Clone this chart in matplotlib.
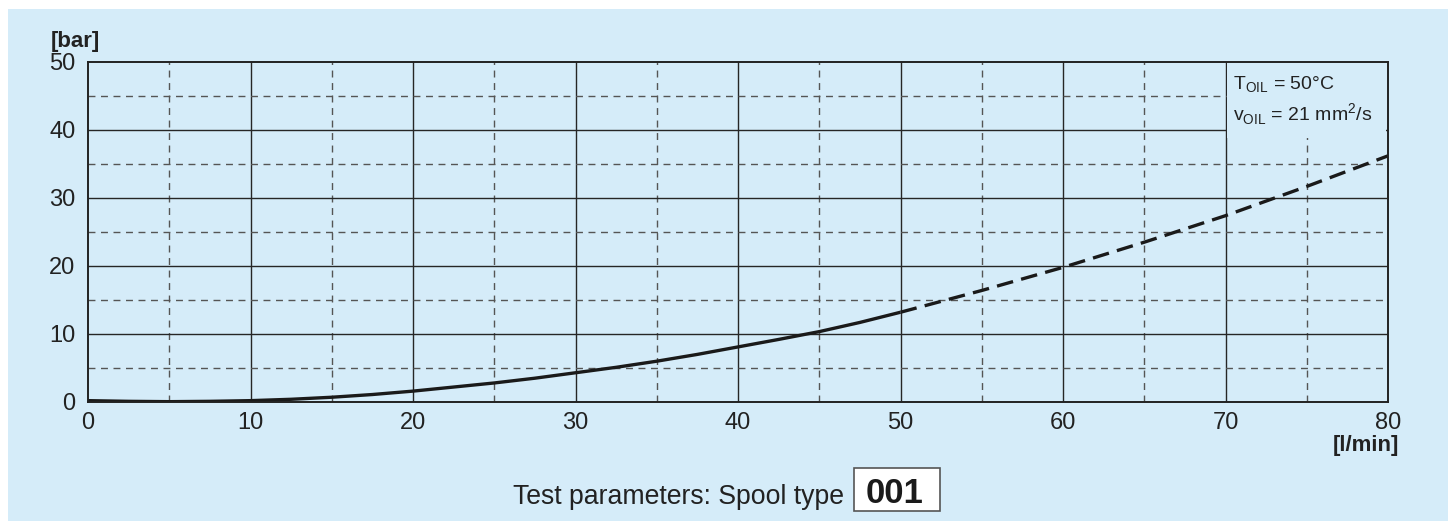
import matplotlib
matplotlib.use("Agg")
import matplotlib.pyplot as plt
from matplotlib.patches import Rectangle

plt.rcParams['font.family'] = ['Liberation Sans', 'DejaVu Sans']
plt.rcParams['mathtext.fontset'] = 'custom'
plt.rcParams['mathtext.rm'] = 'Liberation Sans'

BG = '#d5ecf9'
W, H = 1448, 521

# measured curve (flow l/min -> pressure drop bar)
flow_solid = [0, 2.5, 5, 7.5, 10, 12.5, 15, 17.5, 20, 22.5, 25, 27.5, 30,
              32.5, 35, 37.5, 40, 42.5, 45, 47.5, 50]
dp_solid = [0.2, 0.1, 0.05, 0.1, 0.2, 0.4, 0.7, 1.1, 1.6, 2.2, 2.8, 3.5, 4.3,
            5.1, 6.0, 7.0, 8.1, 9.2, 10.35, 11.7, 13.2]
# extrapolated part
flow_dash = [50, 55, 60, 65, 70, 75, 80]
dp_dash = [13.2, 16.4, 19.8, 23.5, 27.4, 31.7, 36.2]

x_ticks = [0, 10, 20, 30, 40, 50, 60, 70, 80]
y_ticks = [0, 10, 20, 30, 40, 50]

fig = plt.figure(figsize=(14.48, 5.21), dpi=100)
fig.patch.set_facecolor('white')
fig.patches.append(Rectangle((8 / W, 0), 1, 1 - 9 / H, transform=fig.transFigure,
                             facecolor=BG, edgecolor='none', zorder=-10))

ax = fig.add_axes([88 / W, 1 - 402 / H, 1300 / W, 340 / H])
ax.set_zorder(1)
ax.set_facecolor(BG)
ax.set_xlim(0, 80)
ax.set_ylim(0, 50)

# grid
for x in range(5, 80, 5):
    if x % 10 == 0:
        ax.axvline(x, color='#262626', lw=1.0, zorder=1)
    else:
        ax.axvline(x, color='#555555', lw=1.0, ls=(0, (5, 4)), zorder=1)
for y in range(5, 50, 5):
    if y % 10 == 0:
        ax.axhline(y, color='#262626', lw=1.0, zorder=1)
    else:
        ax.axhline(y, color='#555555', lw=1.0, ls=(0, (5, 4)), zorder=1)

# annotation box over grid
ax.add_patch(Rectangle((70.1, 38.8), 9.8, 11.2, facecolor=BG, edgecolor='none', zorder=2))
ax.text(70.45, 46.6, r'T$_{\mathrm{OIL}}$ = 50°C', fontsize=14, va='center',
        color='#222222', zorder=3)
ax.text(70.45, 42.4, r'v$_{\mathrm{OIL}}$ = 21 mm$^{2}$/s', fontsize=14, va='center',
        color='#222222', zorder=3)

ax.plot(flow_solid, dp_solid, color='#1a1a1a', lw=2.4, zorder=4, solid_capstyle='butt')
ax.plot(flow_dash, dp_dash, color='#1a1a1a', lw=2.4, ls=(0, (5, 2.5)), zorder=4)

for s in ax.spines.values():
    s.set_color('#222222')
    s.set_linewidth(1.4)
    s.set_zorder(5)

ax.set_xticks(x_ticks)
ax.set_yticks(y_ticks)
ax.tick_params(length=0, labelsize=17, colors='#222222', pad=7)
ax.tick_params(axis='y', pad=9)

fig.text(51 / W, 1 - 42 / H, '[bar]', fontsize=16, fontweight='bold',
         color='#222222', ha='left', va='center')
fig.text(1399 / W, 1 - 445 / H, '[l/min]', fontsize=16, fontweight='bold',
         color='#222222', ha='right', va='center')

fig.text(513 / W, 1 - 504 / H, 'Test parameters: Spool type', fontsize=19.2,
         color='#222222', ha='left', va='baseline')
fig.patches.append(Rectangle((854 / W, 1 - 511 / H), 86 / W, 43 / H, transform=fig.transFigure,
                             facecolor='white', edgecolor='#555555', lw=1.2, zorder=2))
fig.text(895 / W, 1 - 503 / H, '001', fontsize=25, fontweight='bold',
         color='#1a1a1a', ha='center', va='baseline', zorder=3)

fig.savefig('out.png', dpi=100, facecolor=fig.get_facecolor())
